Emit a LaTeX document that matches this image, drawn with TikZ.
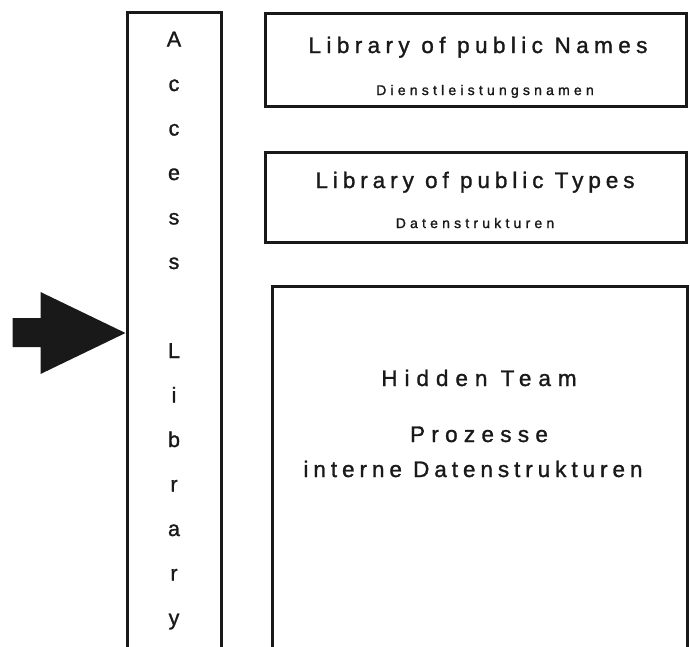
\documentclass[tikz,border=0pt]{standalone}
\usepackage{fontspec}
\setmainfont{Liberation Sans}
\newfontfamily\fA[LetterSpace=24,FakeBold=1.3]{Liberation Sans}
\newfontfamily\fB[LetterSpace=22,FakeBold=1.3]{Liberation Sans}
\newfontfamily\fH[LetterSpace=31,FakeBold=1.3]{Liberation Sans}
\newfontfamily\fP[LetterSpace=28,FakeBold=1.3]{Liberation Sans}
\newfontfamily\fI[LetterSpace=22,FakeBold=1.3]{Liberation Sans}
\newfontfamily\fS[LetterSpace=30,FakeBold=1.5]{Liberation Sans}
\newfontfamily\fL[FakeBold=1.3]{Liberation Sans}
\usetikzlibrary{calc}
\begin{document}
\begin{tikzpicture}[x=1pt,y=-1pt,
  frame/.style={draw=black!90,line width=3pt,inner sep=0pt},
  big/.style={inner sep=0pt,text=black!90,anchor=base},
  small/.style={inner sep=0pt,text=black!90,anchor=base},
  letter/.style={font=\fL\fontsize{21.5}{24}\selectfont,inner sep=0pt,text=black!90,anchor=base}]
\useasboundingbox (0,0) rectangle (690,646);
\clip (0,0) rectangle (690,646);
\node[frame,minimum width=94pt,minimum height=642pt] (access) at (174,333) {};
\node[frame,minimum width=421pt,minimum height=93pt] (names) at (476,59.5) {};
\node[frame,minimum width=421pt,minimum height=90pt] (types) at (476,197) {};
\node[frame,minimum width=415pt,minimum height=440pt] (hidden) at (479.5,506) {};
\foreach \c [count=\i from 0] in {A,c,c,e,s,s,{},L,i,b,r,a,r,y}{
  \node[letter] (l\i) at (174,46.5+44.5*\i) {\c};
}
\node[big,font=\fA\fontsize{22.5}{26}\selectfont] (n1) at (478,53) {Library of public Names};
\node[small,font=\fS\fontsize{14}{16}\selectfont] (n2) at (485,95) {Dienstleistungsnamen};
\node[big,font=\fB\fontsize{22.5}{26}\selectfont] (t1) at (475,188) {Library of public Types};
\node[small,font=\fS\fontsize{14}{16}\selectfont] (t2) at (475,228) {Datenstrukturen};
\node[big,font=\fH\fontsize{22.5}{26}\selectfont] (h1) at (479,386) {Hidden Team};
\node[big,font=\fP\fontsize{22.5}{26}\selectfont] (h2) at (479,442) {Prozesse};
\node[big,font=\fI\fontsize{22.5}{26}\selectfont] (h3) at (473,477) {interne Datenstrukturen};
\fill[black!90] (access.west) -- ++(-85,-41) -- ++(0,26) -- ++(-28,0) -- ++(0,29) -- ++(28,0) -- ++(0,27) -- cycle;
\end{tikzpicture}
\end{document}
